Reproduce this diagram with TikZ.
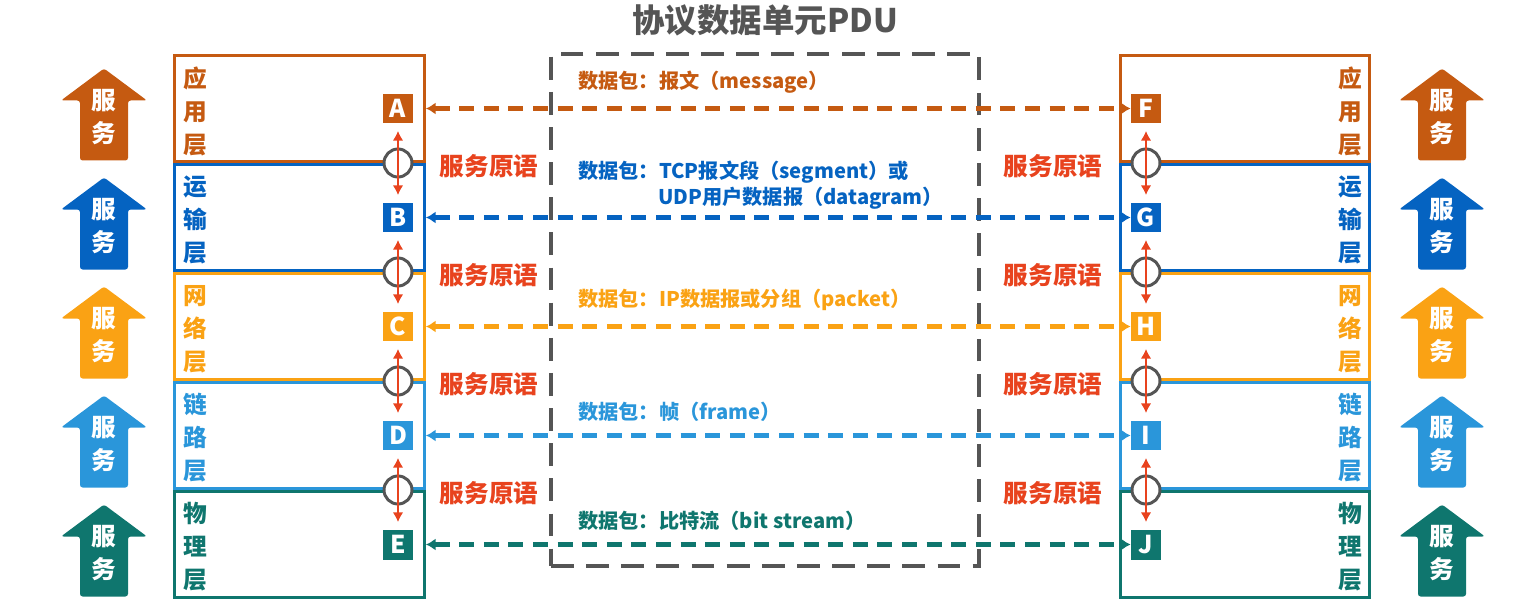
\documentclass[tikz,border=0pt]{standalone}
\usepackage{fontspec}
\setmainfont{Noto Sans CJK SC}
\usetikzlibrary{arrows.meta,positioning,calc}

\definecolor{appc}{RGB}{197,90,17}
\definecolor{trac}{RGB}{5,99,193}
\definecolor{netc}{RGB}{250,162,20}
\definecolor{lnkc}{RGB}{42,150,218}
\definecolor{phyc}{RGB}{15,118,110}
\definecolor{primc}{RGB}{232,67,30}
\definecolor{ringc}{RGB}{85,85,85}

\tikzset{
    layer/.style ={draw, line width=1.7pt, minimum width=5cm, minimum height=2.12cm, inner sep=0},
    sap/.style = {minimum size=0.6cm, inner sep=0, text=white, font=\fontsize{14}{14}\selectfont\bfseries},
    sapring/.style = {circle, draw=ringc, line width=1.7pt, fill=white, minimum size=0.56cm, inner sep=0},
    prim/.style = {primc, line width=1.5pt, {Latex[length=5.5pt,width=6pt]}-{Latex[length=5.5pt,width=6pt]}},
    pdu/.style = {dash pattern=on 8.5pt off 5.5pt, line width=2.4pt, {Latex[length=5.5pt,width=7pt]}-{Latex[length=5.5pt,width=7pt]}},
    tag/.style = {font=\fontsize{13.5}{18.8}\selectfont\bfseries, align=center, inner sep=0},
    primtag/.style = {text=primc, font=\fontsize{14}{14}\selectfont\bfseries, inner sep=0},
    pdutag/.style = {anchor=west, font=\fontsize{11.5}{14}\selectfont\bfseries, inner sep=0},
    svc/.pic = {
        \fill[rounded corners=1.5pt] (-24,46) -- (-24,-14) -- (-43,-14) -- (0,-46)
            -- (43,-14) -- (24,-14) -- (24,46) -- cycle;
        \node[tag, text=white, font=\fontsize{14}{18.8}\selectfont\bfseries] at (0,2.5) {服\\务};
    }
}

\begin{document}
\begin{tikzpicture}[x=0.02cm, y=-0.02cm]
    \useasboundingbox (0,0) rectangle (1519,615);

    % protocol data unit frame
    \node[draw=ringc, line width=2.6pt, dash pattern=on 13pt off 7pt, minimum width=8.56cm, minimum height=10.24cm] (pdubox) at (765,310) {};
    \node[text=ringc, font=\fontsize{18.5}{18.5}\selectfont\bfseries, inner sep=0, above=0.3cm of pdubox] (title) {协议数据单元PDU};

    % left stack
    \node[layer, draw=appc] (lapp) at (299.5,108.5) {};
    \node[layer, draw=trac] (ltra) at (299.5,217.5) {};
    \node[layer, draw=netc] (lnet) at (299.5,326.5) {};
    \node[layer, draw=lnkc] (llnk) at (299.5,435.5) {};
    \node[layer, draw=phyc] (lphy) at (299.5,544.5) {};

    % right stack
    \node[layer, draw=appc] (rapp) at (1245,108.5) {};
    \node[layer, draw=trac] (rtra) at (1245,217.5) {};
    \node[layer, draw=netc] (rnet) at (1245,326.5) {};
    \node[layer, draw=lnkc] (rlnk) at (1245,435.5) {};
    \node[layer, draw=phyc] (rphy) at (1245,544.5) {};

    % layer names
    \node[tag, text=appc] (lappt) at (195,111) {应\\用\\层};
    \node[tag, text=trac] (ltrat) at (195,220) {运\\输\\层};
    \node[tag, text=netc] (lnett) at (195,329) {网\\络\\层};
    \node[tag, text=lnkc] (llnkt) at (195,438) {链\\路\\层};
    \node[tag, text=phyc] (lphyt) at (195,547) {物\\理\\层};
    \node[tag, text=appc] (rappt) at (1350,111) {应\\用\\层};
    \node[tag, text=trac] (rtrat) at (1350,220) {运\\输\\层};
    \node[tag, text=netc] (rnett) at (1350,329) {网\\络\\层};
    \node[tag, text=lnkc] (rlnkt) at (1350,438) {链\\路\\层};
    \node[tag, text=phyc] (rphyt) at (1350,547) {物\\理\\层};

    % access points
    \node[sap, fill=appc] (A) at (398,108.5) {A};
    \node[sap, fill=trac] (B) at (398,217.5) {B};
    \node[sap, fill=netc] (C) at (398,326.5) {C};
    \node[sap, fill=lnkc] (D) at (398,435.5) {D};
    \node[sap, fill=phyc] (E) at (398,544.5) {E};
    \node[sap, fill=appc] (F) at (1146,108.5) {F};
    \node[sap, fill=trac] (G) at (1146,217.5) {G};
    \node[sap, fill=netc] (H) at (1146,326.5) {H};
    \node[sap, fill=lnkc] (I) at (1146,435.5) {I};
    \node[sap, fill=phyc] (J) at (1146,544.5) {J};

    % interfaces between layers
    \node[sapring] (l1) at ($(A)!.5!(B)$) {};
    \node[sapring] (l2) at ($(B)!.5!(C)$) {};
    \node[sapring] (l3) at ($(C)!.5!(D)$) {};
    \node[sapring] (l4) at ($(D)!.5!(E)$) {};
    \node[sapring] (r1) at ($(F)!.5!(G)$) {};
    \node[sapring] (r2) at ($(G)!.5!(H)$) {};
    \node[sapring] (r3) at ($(H)!.5!(I)$) {};
    \node[sapring] (r4) at ($(I)!.5!(J)$) {};

    \draw[prim] ([yshift=-0.14cm]A.south) -- ([yshift=0.14cm]B.north);
    \draw[prim] ([yshift=-0.14cm]B.south) -- ([yshift=0.14cm]C.north);
    \draw[prim] ([yshift=-0.14cm]C.south) -- ([yshift=0.14cm]D.north);
    \draw[prim] ([yshift=-0.14cm]D.south) -- ([yshift=0.14cm]E.north);
    \draw[prim] ([yshift=-0.14cm]F.south) -- ([yshift=0.14cm]G.north);
    \draw[prim] ([yshift=-0.14cm]G.south) -- ([yshift=0.14cm]H.north);
    \draw[prim] ([yshift=-0.14cm]H.south) -- ([yshift=0.14cm]I.north);
    \draw[prim] ([yshift=-0.14cm]I.south) -- ([yshift=0.14cm]J.north);

    % service primitives
    \node[primtag] (lp1) at (489,166) {服务原语};
    \node[primtag] (lp2) at (489,275) {服务原语};
    \node[primtag] (lp3) at (489,384) {服务原语};
    \node[primtag] (lp4) at (489,493) {服务原语};
    \node[primtag] (rp1) at (1053,166) {服务原语};
    \node[primtag] (rp2) at (1053,275) {服务原语};
    \node[primtag] (rp3) at (1053,384) {服务原语};
    \node[primtag] (rp4) at (1053,493) {服务原语};

    % peer to peer
    \draw[pdu, appc] (lapp.east) -- (F.west);
    \draw[pdu, trac] (ltra.east) -- (G.west);
    \draw[pdu, netc] (lnet.east) -- (H.west);
    \draw[pdu, lnkc] (llnk.east) -- (I.west);
    \draw[pdu, phyc] (lphy.east) -- (J.west);

    \node[pdutag, text=appc] (m1) at (578,82) {数据包：报文（message）};
    \node[pdutag, text=trac] (m2) at (578,172) {数据包：TCP报文段（segment）或};
    \node[pdutag, text=trac] (m2b) at (658,198) {UDP用户数据报（datagram）};
    \node[pdutag, text=netc] (m3) at (578,300) {数据包：IP数据报或分组（packet）};
    \node[pdutag, text=lnkc] (m4) at (578,412) {数据包：帧（frame）};
    \node[pdutag, text=phyc] (m5) at (578,521) {数据包：比特流（bit stream）};

    % services offered upwards
    \pic[appc] at (104,114.5) {svc};
    \pic[trac] at (104,223.5) {svc};
    \pic[netc] at (104,332.5) {svc};
    \pic[lnkc] at (104,441.5) {svc};
    \pic[phyc] at (104,550.5) {svc};
    \pic[appc] at (1442,114.5) {svc};
    \pic[trac] at (1442,223.5) {svc};
    \pic[netc] at (1442,332.5) {svc};
    \pic[lnkc] at (1442,441.5) {svc};
    \pic[phyc] at (1442,550.5) {svc};
\end{tikzpicture}
\end{document}
